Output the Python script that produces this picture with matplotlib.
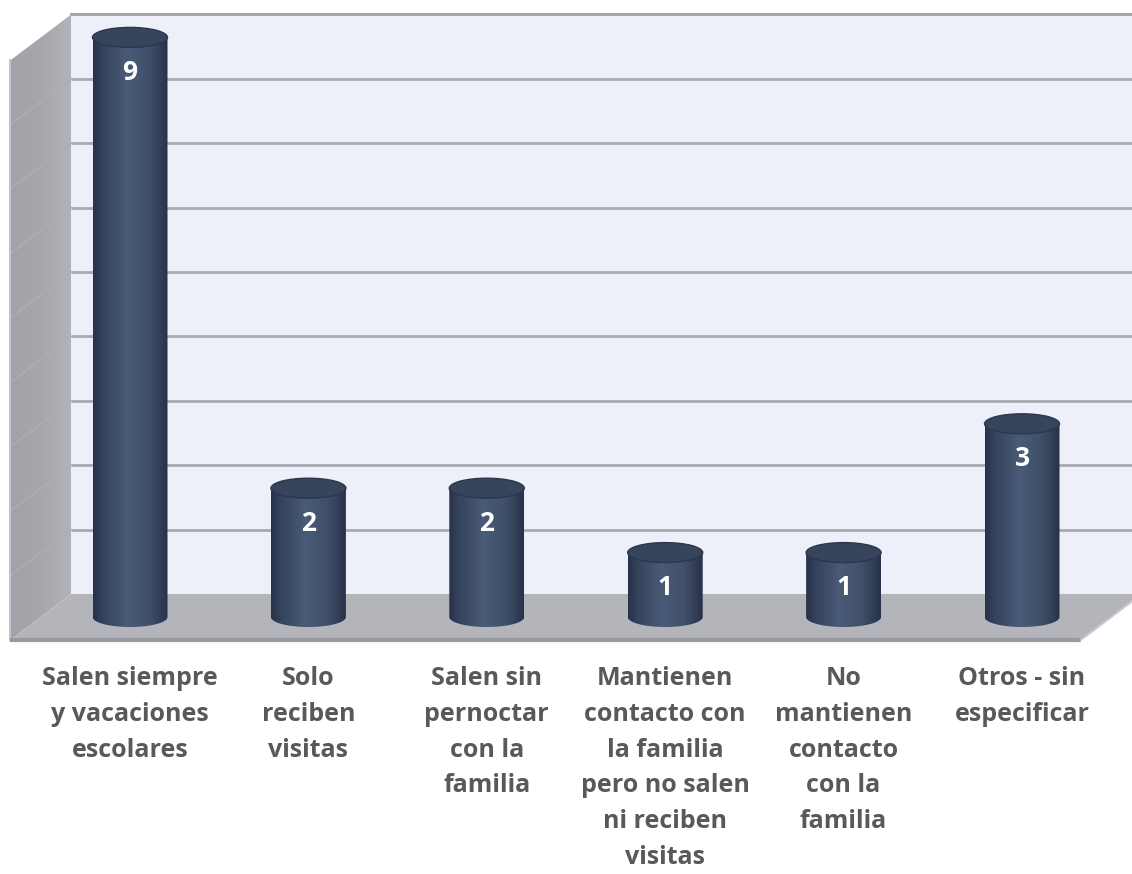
import numpy as np
import matplotlib
matplotlib.use("Agg")
import matplotlib.pyplot as plt
from matplotlib.patches import Polygon, Rectangle, Ellipse, PathPatch
from matplotlib.path import Path
from matplotlib.colors import LinearSegmentedColormap

# ---------------- data ----------------
categories = [
    "Salen siempre\ny vacaciones\nescolares",
    "Solo\nreciben\nvisitas",
    "Salen sin\npernoctar\ncon la\nfamilia",
    "Mantienen\ncontacto con\nla familia\npero no salen\nni reciben\nvisitas",
    "No\nmantienen\ncontacto\ncon la\nfamilia",
    "Otros - sin\nespecificar",
]
values = [9, 2, 2, 1, 1, 3]
y_max = 9

# ---------------- layout ----------------
W_PX, H_PX = 1132, 874
PX = 178.4      # pixels per category
PY = 64.4       # pixels per unit
X0 = 130        # pixel x of first category
Y0 = 617        # pixel y (from top) of value 0 in bar plane
DX = 30.5 / PX  # half depth (x)
DY = 23 / PY    # half depth (y)
BAR_W = 75 / PX
ELL_H = 20 / PY
XL, XR = -0.5, len(values) - 0.5

fig = plt.figure(figsize=(W_PX / 100, H_PX / 100), dpi=100)
ax = fig.add_axes([0, 0, 1, 1])
ax.axis("off")

# back wall
ax.add_patch(Rectangle((XL + DX, DY), XR - XL, y_max, facecolor="#edeff9",
                       edgecolor="none", zorder=1))
for k in range(1, y_max):
    ax.plot([XL + DX, XR + DX], [k + DY, k + DY], color="#a7a9b3", lw=2,
            solid_capstyle="butt", zorder=2)
    # faint diagonals on the left wall
    ax.plot([XL - DX, XL + DX], [k - DY, k + DY], color="#aeaeb5", lw=1.0,
            zorder=3.5)
ax.plot([XL + DX, XR + DX], [y_max + DY, y_max + DY], color="#a4a5ae", lw=2.2,
        zorder=2)

# left wall with gradient
lw_poly = Polygon([(XL - DX, -DY), (XL - DX, y_max - DY), (XL + DX, y_max + DY),
                   (XL + DX, DY)], closed=True, facecolor="none",
                  edgecolor="none", transform=ax.transData)
ax.add_patch(lw_poly)
grad = np.linspace(0, 1, 64).reshape(1, -1)
cmap_wall = LinearSegmentedColormap.from_list("wall", ["#a2a2a9", "#a6a6ad", "#b2b2b9"])
im = ax.imshow(grad, extent=[XL - DX, XL + DX, -DY, y_max + DY], cmap=cmap_wall,
               aspect="auto", zorder=3, origin="lower")
im.set_clip_path(lw_poly)
ax.plot([XL - DX, XL - DX], [-DY, y_max - DY], color="#c4c4ca", lw=1.5, zorder=3.6)

# floor
ax.add_patch(Polygon([(XL - DX, -DY), (XR - DX, -DY), (XR + DX, DY), (XL + DX, DY)],
                     closed=True, facecolor="#b4b4bb", edgecolor="none", zorder=4))
ax.plot([XL - DX, XR - DX], [-DY, -DY], color="#98989f", lw=3, zorder=4.1,
        solid_capstyle="butt")
ax.plot([XR - DX, XR + DX], [-DY, DY], color="#c8c8ce", lw=1.5, zorder=4.1)

# cylinders
cmap_bar = LinearSegmentedColormap.from_list(
    "bar", [(0.0, "#27324a"), (0.12, "#34425b"), (0.45, "#4a5b78"),
            (0.75, "#405069"), (0.92, "#303c54"), (1.0, "#28324a")])
t = np.linspace(np.pi, 2 * np.pi, 40)
for i, v in enumerate(values):
    c = i
    verts = [(c - BAR_W / 2, v), (c - BAR_W / 2, 0)]
    verts += [(c + BAR_W / 2 * np.cos(a), ELL_H / 2 * np.sin(a)) for a in t]
    verts += [(c + BAR_W / 2, v), (c - BAR_W / 2, v)]
    body = PathPatch(Path(verts, closed=False), facecolor="none", edgecolor="none",
                     transform=ax.transData)
    ax.add_patch(body)
    bim = ax.imshow(np.linspace(0, 1, 128).reshape(1, -1),
                    extent=[c - BAR_W / 2, c + BAR_W / 2, -ELL_H, v],
                    cmap=cmap_bar, aspect="auto", zorder=5, origin="lower")
    bim.set_clip_path(body)
    ax.add_patch(Ellipse((c, v), BAR_W, ELL_H, facecolor="#36445c",
                         edgecolor="#2c374d", lw=1.0, zorder=6))
    ax.text(c, v - 35 / PY, str(v), color="white", fontsize=19, fontweight="bold",
            family="Open Sans", ha="center", va="center", zorder=7)

# category labels
for i, lab in enumerate(categories):
    ax.text(i, (Y0 - 666) / PY, lab, color="#595959", fontsize=18,
            fontweight="bold", family="Open Sans", ha="center", va="top",
            linespacing=1.57, zorder=7)

ax.set_xlim(-X0 / PX, (W_PX - X0) / PX)
ax.set_ylim((Y0 - H_PX) / PY, Y0 / PY)
ax.set_aspect("auto")

fig.savefig("out.png", dpi=100, facecolor="white")
